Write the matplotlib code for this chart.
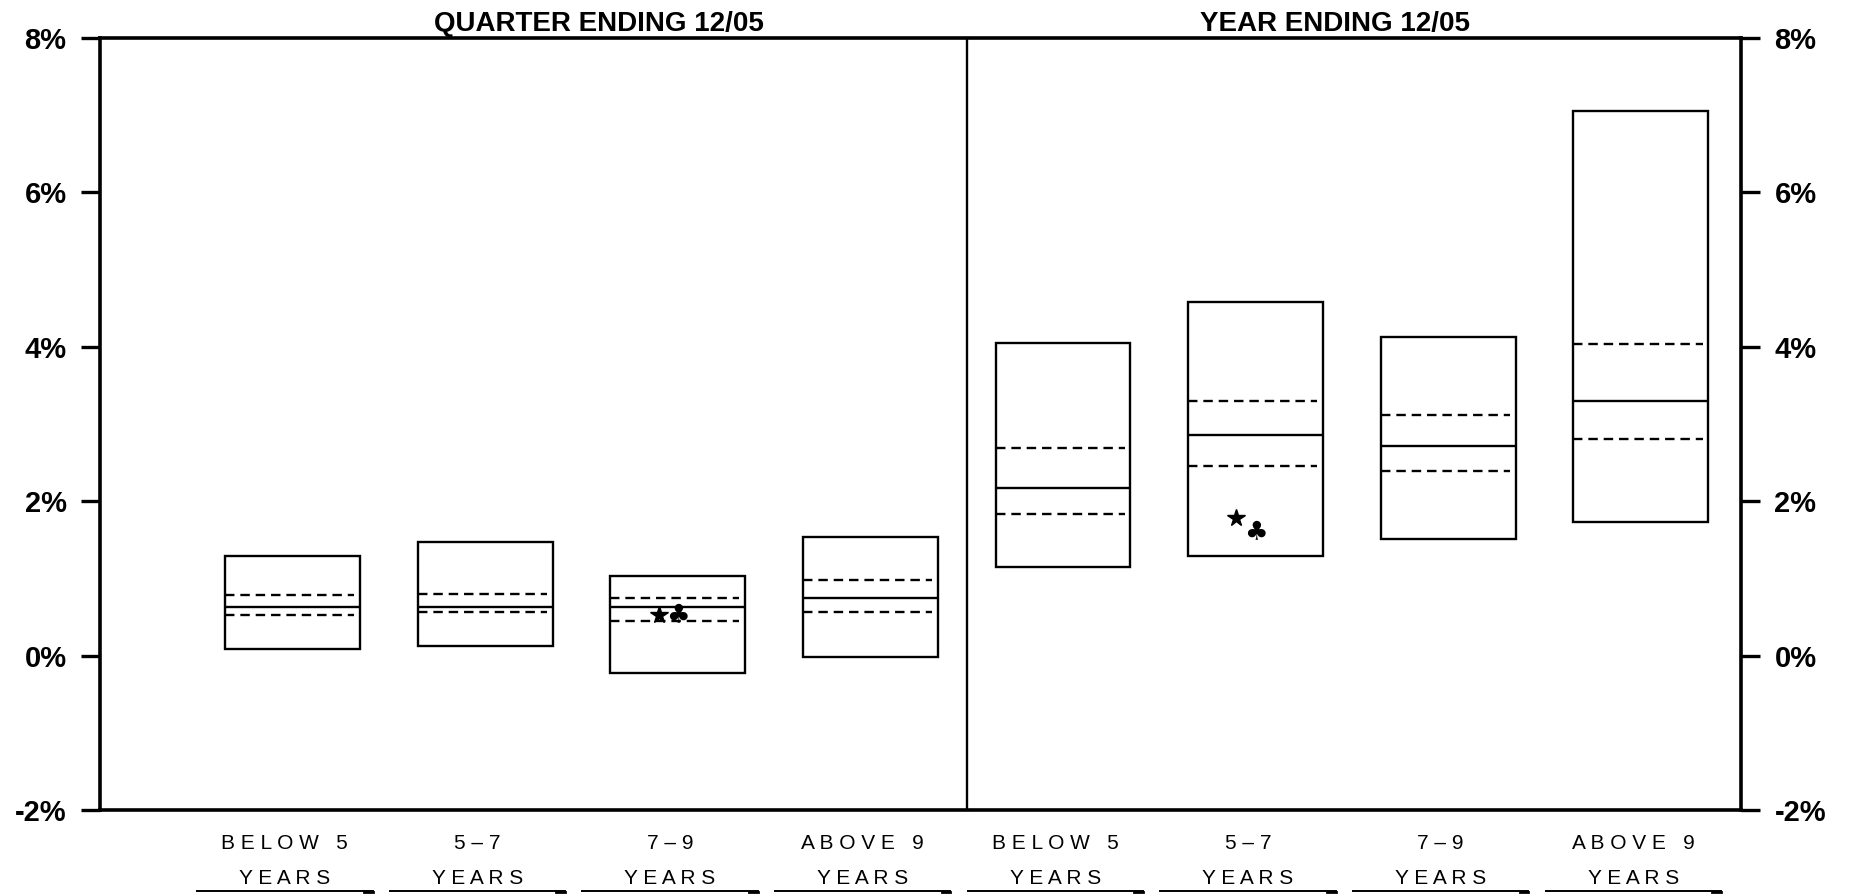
import matplotlib
matplotlib.use("Agg")
import matplotlib.pyplot as plt
import numpy as np

plt.rcParams['font.family'] = ['Liberation Sans', 'DejaVu Sans']

# categories (maturity buckets), same for both panels
categories = ["BELOW 5", "5–7", "7–9", "ABOVE 9"]
panel_titles = ["QUARTER ENDING 12/05", "YEAR ENDING 12/05"]

# quarter ending 12/05 (percent)
quarter_top = [1.29, 1.47, 1.03, 1.53]
quarter_upper = [0.78, 0.80, 0.74, 0.98]
quarter_median = [0.63, 0.63, 0.63, 0.75]
quarter_lower = [0.52, 0.57, 0.45, 0.57]
quarter_bottom = [0.09, 0.12, -0.23, -0.02]

# year ending 12/05 (percent)
year_top = [4.05, 4.58, 4.12, 7.05]
year_upper = [2.69, 3.30, 3.12, 4.04]
year_median = [2.17, 2.86, 2.71, 3.30]
year_lower = [1.83, 2.46, 2.39, 2.81]
year_bottom = [1.15, 1.29, 1.51, 1.73]

# portfolio (star) and benchmark (club) points
star_category = [3, 6]
star_values = [0.53, 1.78]
club_category = [3, 6]
club_values = [0.52, 1.60]

yticks = [-2, 0, 2, 4, 6, 8]
ytick_labels = ["-2%", "0%", "2%", "4%", "6%", "8%"]

fig = plt.figure(figsize=(18.51, 8.96), dpi=100)
ax = fig.add_axes([0.0540, 0.0960, 0.8866, 0.8618])

top = np.array(quarter_top + year_top)
upper = np.array(quarter_upper + year_upper)
median = np.array(quarter_median + year_median)
lower = np.array(quarter_lower + year_lower)
bottom = np.array(quarter_bottom + year_bottom)
x = np.arange(1, len(top) + 1)
w = 0.70

ax.bar(x, top - bottom, bottom=bottom, width=w, fill=False,
       edgecolor='black', linewidth=1.7)
ax.hlines(median, x - w / 2, x + w / 2, colors='black', linewidth=1.7)
ax.hlines(upper, x - w / 2, x + w / 2 - 0.03, colors='black', linewidth=1.7,
          linestyles=(0, (4, 2.5)))
ax.hlines(lower, x - w / 2, x + w / 2 - 0.03, colors='black', linewidth=1.7,
          linestyles=(0, (4, 2.5)))

ax.plot(np.array(star_category) - 0.10, star_values, linestyle='none',
        marker='*', markersize=13, color='black')
for c, v in zip(club_category, club_values):
    ax.text(c, v, "♣", family='DejaVu Sans', fontsize=19, ha='center',
            va='center', color='black')

# divider between the two panels
ax.axvline(4.5, color='black', linewidth=1.7)

ax.set_xlim(0, 8.52)
ax.set_ylim(-2, 8)
ax.set_xticks([])
ax.set_yticks(yticks)
ax.set_yticklabels(ytick_labels)
ax.tick_params(axis='y', left=True, right=True, labelleft=True, labelright=True,
               direction='out', length=14, width=2.4, pad=10,
               labelsize=21)
for lab in ax.get_yticklabels():
    lab.set_fontweight('bold')
for side in ['left', 'right', 'top', 'bottom']:
    ax.spines[side].set_linewidth(2.6)

# panel titles
for xpos, title in zip([2.59, 6.41], panel_titles):
    ax.text(xpos, 1.009, title, transform=ax.get_xaxis_transform(),
            ha='center', va='baseline', fontsize=20, fontweight='bold')

# spaced category labels with underline
trans = ax.get_xaxis_transform()
labels = categories + categories
for xi, lab in zip(x, labels):
    spaced = "   ".join(" ".join(word) for word in lab.split())
    ax.text(xi - 0.04, -0.043, spaced, transform=trans, ha='center',
            va='center', fontsize=15)
    ax.text(xi - 0.04, -0.089, " ".join("YEARS"), transform=trans,
            ha='center', va='center', fontsize=15)
    ax.plot([xi - 0.495, xi + 0.415], [-0.105, -0.105], transform=trans,
            color='black', linewidth=1.4, clip_on=False)
    ax.plot([xi + 0.37, xi + 0.415], [-0.106, -0.106], transform=trans,
            color='black', linewidth=2.0, clip_on=False)

fig.savefig("out.png", dpi=100)
